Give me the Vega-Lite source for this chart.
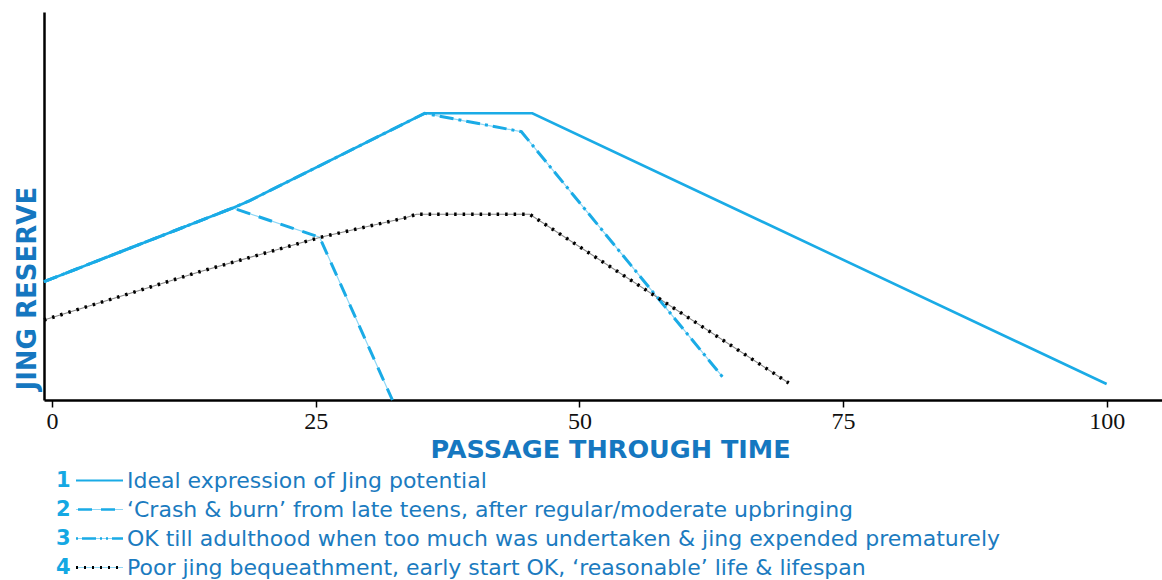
{
  "$schema": "https://vega.github.io/schema/vega-lite/v6.json",
  "padding": {"left": 14, "top": 12, "right": 0, "bottom": 0},
  "background": "white",
  "spacing": 3,
  "config": {"view": {"stroke": null}},
  "datasets": {
    "pts": [
      {"series": "1", "x": -0.77, "y": 118.3},
      {"series": "1", "x": 17.13, "y": 192},
      {"series": "1", "x": 18.74, "y": 199.3},
      {"series": "1", "x": 35.33, "y": 286.7},
      {"series": "1", "x": 45.54, "y": 286.7},
      {"series": "1", "x": 100, "y": 16},
      {"series": "2", "x": -0.77, "y": 118.3},
      {"series": "2", "x": 17.13, "y": 192},
      {"series": "2", "x": 25.37, "y": 162.7},
      {"series": "2", "x": 32.27, "y": 0},
      {"series": "3", "x": -0.77, "y": 118.3},
      {"series": "3", "x": 17.13, "y": 192},
      {"series": "3", "x": 18.74, "y": 199.3},
      {"series": "3", "x": 35.33, "y": 286.7},
      {"series": "3", "x": 44.5, "y": 268.3},
      {"series": "3", "x": 63.56, "y": 23.3},
      {"series": "4", "x": -0.77, "y": 80},
      {"series": "4", "x": 14.0, "y": 128.3},
      {"series": "4", "x": 25.44, "y": 162.7},
      {"series": "4", "x": 33.43, "y": 182},
      {"series": "4", "x": 34.57, "y": 185.7},
      {"series": "4", "x": 45.29, "y": 185.7},
      {"series": "4", "x": 69.85, "y": 17}
    ],
    "leg": [
      {"id": "1", "label": "Ideal expression of Jing potential"},
      {"id": "2", "label": "‘Crash & burn’ from late teens, after regular/moderate upbringing"},
      {"id": "3", "label": "OK till adulthood when too much was undertaken & jing expended prematurely"},
      {"id": "4", "label": "Poor jing bequeathment, early start OK, ‘reasonable’ life & lifespan"}
    ]
  },
  "vconcat": [
    {
      "width": 1118,
      "height": 388,
      "data": {"name": "pts"},
      "encoding": {
        "x": {
          "field": "x", "type": "quantitative",
          "scale": {"domain": [-0.77, 105.25], "nice": false, "zero": false},
          "axis": {
            "values": [0, 25, 50, 75, 100],
            "grid": false,
            "domainColor": "#000000", "domainWidth": 2.5,
            "tickColor": "#000000", "tickWidth": 1.5, "tickSize": 7,
            "labelFont": "Liberation Serif", "labelFontSize": 24, "labelColor": "#111111",
            "labelPadding": 2, "labelFlush": false,
            "title": "PASSAGE THROUGH TIME",
            "titleFont": "DejaVu Sans", "titleFontWeight": "bold", "titleFontSize": 25.5,
            "titleColor": "#1577C0",
            "titleX": 566, "titleY": 57, "titleAlign": "center", "titleBaseline": "alphabetic"
          }
        },
        "y": {
          "field": "y", "type": "quantitative",
          "scale": {"domain": [0, 388], "nice": false},
          "axis": {
            "ticks": false, "labels": false, "grid": false,
            "domainColor": "#000000", "domainWidth": 2.5,
            "title": "JING RESERVE",
            "titleFont": "DejaVu Sans", "titleFontWeight": "bold", "titleFontSize": 26,
            "titleColor": "#1577C0", "titleAngle": -90,
            "titleX": -9, "titleY": 378, "titleAlign": "left", "titleBaseline": "alphabetic"
          }
        }
      },
      "layer": [
        {
          "transform": [{"filter": "datum.series === '2' || datum.series === '3'"}],
          "mark": {"type": "line", "color": "#8ed7f6", "strokeWidth": 1.2},
          "encoding": {"detail": {"field": "series"}}
        },
        {
          "transform": [{"filter": "datum.series === '4'"}],
          "mark": {"type": "line", "color": "#888888", "strokeWidth": 1.1}
        },
        {
          "transform": [{"filter": "datum.series === '2'"}],
          "mark": {"type": "line", "color": "#1AABE6", "strokeWidth": 3, "strokeDash": [14, 9]}
        },
        {
          "transform": [{"filter": "datum.series === '3'"}],
          "mark": {"type": "line", "color": "#1AABE6", "strokeWidth": 3, "strokeDash": [14, 5, 3, 5]}
        },
        {
          "transform": [{"filter": "datum.series === '4'"}],
          "mark": {"type": "line", "color": "#000000", "strokeWidth": 3.5, "strokeDash": [2.5, 6]}
        },
        {
          "transform": [{"filter": "datum.series === '1'"}],
          "mark": {"type": "line", "color": "#1AABE6", "strokeWidth": 2.6}
        }
      ]
    },
    {
      "width": 1118,
      "height": 116,
      "data": {"name": "leg"},
      "encoding": {
        "y": {"field": "id", "type": "ordinal", "scale": {"type": "point", "padding": 0.5}, "axis": null}
      },
      "layer": [
        {
          "mark": {"type": "text", "align": "left", "baseline": "middle", "font": "DejaVu Sans", "fontWeight": "bold", "fontSize": 21, "color": "#14A8E3"},
          "encoding": {
            "x": {"datum": 12, "type": "quantitative", "scale": {"domain": [0, 1118], "nice": false, "zero": false}, "axis": null},
            "text": {"field": "id"}
          }
        },
        {
          "transform": [{"filter": "datum.id !== '1'"}],
          "mark": {"type": "rule", "color": "#8ed7f6", "strokeWidth": 1.2},
          "encoding": {"x": {"datum": 32, "type": "quantitative"}, "x2": {"datum": 79}}
        },
        {
          "transform": [{"filter": "datum.id === '1'"}],
          "mark": {"type": "rule", "color": "#1AABE6", "strokeWidth": 2},
          "encoding": {"x": {"datum": 32, "type": "quantitative"}, "x2": {"datum": 79}}
        },
        {
          "transform": [{"filter": "datum.id === '2'"}],
          "mark": {"type": "rule", "color": "#1AABE6", "strokeWidth": 2.5, "strokeDash": [14, 9]},
          "encoding": {"x": {"datum": 34, "type": "quantitative"}, "x2": {"datum": 79}}
        },
        {
          "transform": [{"filter": "datum.id === '3'"}],
          "mark": {"type": "rule", "color": "#1AABE6", "strokeWidth": 2.5, "strokeDash": [2, 4, 14, 4, 2, 4]},
          "encoding": {"x": {"datum": 32, "type": "quantitative"}, "x2": {"datum": 79}}
        },
        {
          "transform": [{"filter": "datum.id === '4'"}],
          "mark": {"type": "rule", "color": "#000000", "strokeWidth": 3, "strokeDash": [2, 6]},
          "encoding": {"x": {"datum": 32, "type": "quantitative"}, "x2": {"datum": 76}}
        },
        {
          "mark": {"type": "text", "align": "left", "baseline": "middle", "font": "DejaVu Sans", "fontSize": 22, "color": "#1B7BC0"},
          "encoding": {
            "x": {"datum": 83, "type": "quantitative"},
            "text": {"field": "label"}
          }
        }
      ]
    }
  ]
}
